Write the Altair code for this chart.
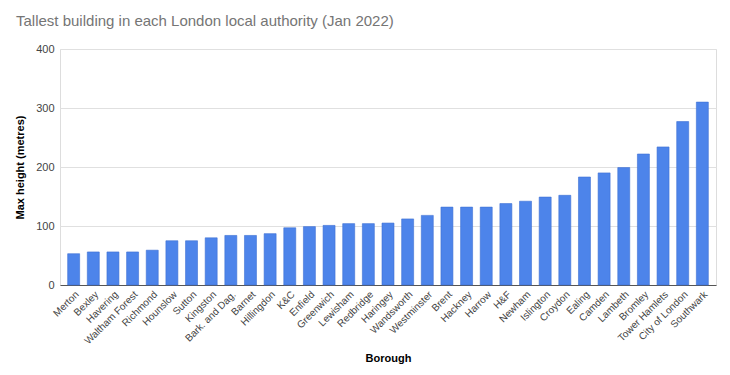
import altair as alt
import pandas as pd

boroughs = ["Merton", "Bexley", "Havering", "Waltham Forest", "Richmond", "Hounslow",
            "Sutton", "Kingston", "Bark. and Dag.", "Barnet", "Hillingdon", "K&C",
            "Enfield", "Greenwich", "Lewisham", "Redbridge", "Haringey", "Wandsworth",
            "Westminster", "Brent", "Hackney", "Harrow", "H&F", "Newham", "Islington",
            "Croydon", "Ealing", "Camden", "Lambeth", "Bromley", "Tower Hamlets",
            "City of London", "Southwark"]
heights = [53, 56, 56, 56, 59, 75, 75, 80, 84, 84, 87, 97, 99, 101, 104, 104, 105, 112,
           118, 132, 132, 132, 138, 142, 149, 152, 183, 190, 199, 222, 234, 277, 310]
y_ticks = [0, 100, 200, 300, 400]

df = pd.DataFrame({"Borough": boroughs, "Height": heights})

FONT = "Liberation Sans"

chart = alt.Chart(df).mark_bar(
    color="#4d84ea", stroke="#3e70d4", strokeWidth=0.6
).encode(
    x=alt.X("Borough:N", sort=boroughs,
            scale=alt.Scale(paddingInner=0.39, paddingOuter=0.39),
            axis=alt.Axis(title="Borough", labelAngle=-45, labelAlign="right",
                          labelBaseline="top", labelFontSize=10, labelColor="#444444",
                          labelFont=FONT, labelPadding=4, ticks=False,
                          domainColor="#555555", domainWidth=1,
                          titleFont=FONT, titleFontSize=11, titleFontWeight="bold",
                          titleColor="#000000", titleX=328, titleY=73,
                          titleAlign="center", titleBaseline="middle")),
    y=alt.Y("Height:Q", scale=alt.Scale(domain=[0, 400], nice=False),
            axis=alt.Axis(title="Max height (metres)", values=y_ticks, domain=False,
                          ticks=False, labelFontSize=11, labelColor="#444444",
                          labelFont=FONT, labelPadding=6, gridColor="#e0e0e0",
                          titleFont=FONT, titleFontSize=11, titleFontWeight="bold",
                          titleColor="#000000", titleX=-40, titleY=118,
                          titleAngle=-90, titleAlign="center", titleBaseline="middle")),
).properties(
    width=656, height=236,
    title=alt.TitleParams("Tallest building in each London local authority (Jan 2022)",
                          anchor="start", frame="group", dx=-44, offset=14,
                          font=FONT, fontSize=15, fontWeight="normal", color="#757575"),
    autosize=alt.AutoSizeParams(type="none"),
    padding={"left": 52, "top": 41, "right": 6, "bottom": 82},
).configure_view(stroke=None).configure(background="white")

chart.save("out.html", embed_options={"renderer": "svg", "actions": False})
